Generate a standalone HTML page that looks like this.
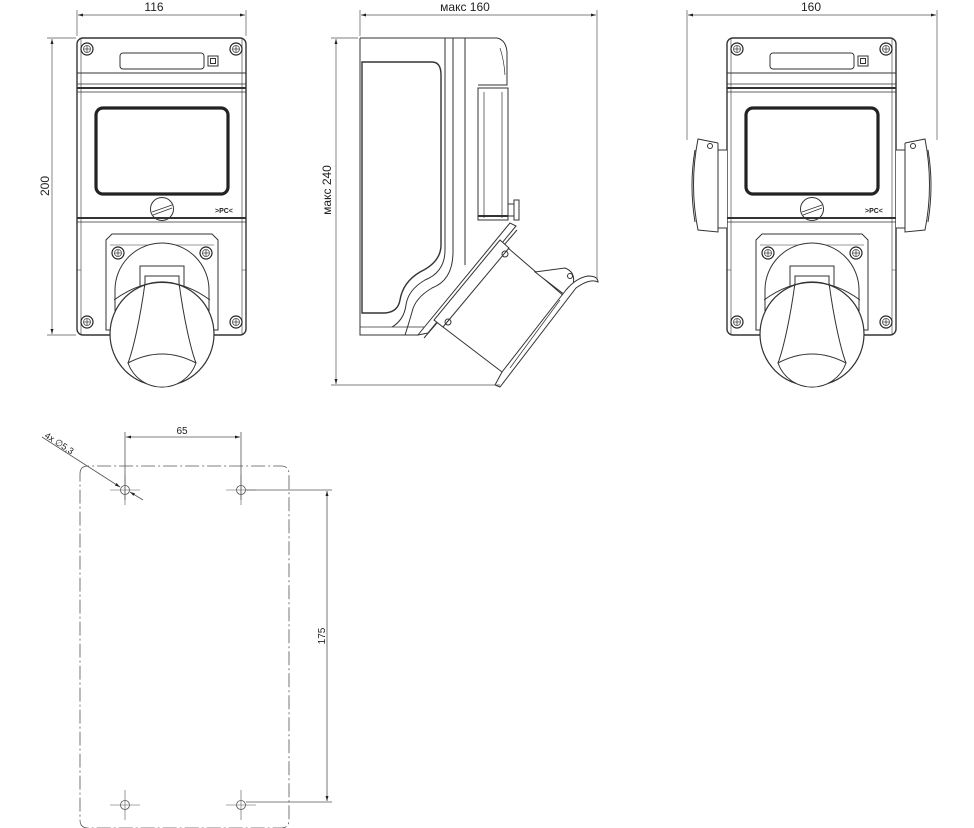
<!DOCTYPE html>
<html><head><meta charset="utf-8"><style>
html,body{margin:0;padding:0;background:#fff;}
svg{display:block;}
text{font-family:"Liberation Sans",sans-serif;fill:#222;}
</style></head><body>
<svg width="974" height="828" viewBox="0 0 974 828" xmlns="http://www.w3.org/2000/svg">
<defs>
<marker id="ar" viewBox="0 0 10 10" refX="10" refY="5" markerWidth="9" markerHeight="5" orient="auto-start-reverse" markerUnits="userSpaceOnUse"><path d="M0,2 L10,5 L0,8 Z" fill="#222"/></marker>
<g id="scr"><circle r="6" fill="#fff" stroke="#222" stroke-width="1.2"/><circle r="3.5" fill="none" stroke="#444" stroke-width="0.8"/><path d="M-3,0H3M0,-3V3" stroke="#444" stroke-width="0.8"/></g>
<g id="front" fill="none" stroke="#333" stroke-width="1">
 <rect x="77" y="38" width="169" height="297" rx="6" stroke-width="1.4"/>
 <line x1="81" y1="38" x2="81" y2="335" stroke-width="0.6"/>
 <line x1="242" y1="38" x2="242" y2="335" stroke-width="0.6"/>
 <line x1="77" y1="73" x2="246" y2="73"/>
 <line x1="77" y1="84" x2="246" y2="84" stroke-width="0.8"/>
 <line x1="77" y1="88" x2="246" y2="88" stroke-width="2"/>
 <line x1="77" y1="92" x2="246" y2="92" stroke-width="0.8"/>
 <rect x="120" y="53" width="84" height="16" rx="3"/>
 <rect x="208" y="56" width="10" height="10"/><rect x="210.5" y="58.5" width="5" height="5"/>
 <rect x="96" y="108" width="132" height="86" rx="7" stroke-width="3.2" stroke="#222"/>
 <circle cx="162" cy="209" r="11.5"/><path d="M152,212 L172,205 M153,215 L172,208" stroke-width="0.8"/>
 <line x1="77" y1="218" x2="246" y2="218" stroke-width="2"/>
 <line x1="77" y1="222" x2="246" y2="222" stroke-width="0.8"/>
 <path d="M81,270 L77,270 M242,270 L246,270" stroke-width="0.6"/>
 <path d="M106,330 V240 L112,234 H212 L218,240 V330 Z" fill="#fff"/>
 <line x1="110" y1="245" x2="214" y2="245" stroke-width="0.6"/>
 <path d="M115,330 V290 A47,47 0 0 1 209,290 V330" fill="#fff"/>
 <rect x="140" y="266" width="44" height="22"/>
 <rect x="145" y="276" width="34" height="14"/>
 <circle cx="162" cy="334" r="52" fill="#fff" stroke-width="1.2"/>
 <path d="M145,283 C140,320 133,350 128,363 M179,283 C184,320 191,350 196,363" />
 <path d="M128,363 Q162,345 196,363 A36,36 0 0 1 128,363 Z" fill="#fff"/>
 <path d="M114,300 Q162,265 210,300"/>
</g>
</defs>

<!-- front view 1 -->
<use href="#front"/>
<use href="#scr" x="87" y="49"/><use href="#scr" x="236" y="49"/>
<use href="#scr" x="87" y="322"/><use href="#scr" x="236" y="322"/>
<use href="#scr" x="118" y="253"/><use href="#scr" x="206" y="253"/>
<text x="215" y="213" font-size="7" font-weight="bold">&gt;PC&lt;</text>
<g stroke="#555" stroke-width="0.7" fill="none">
 <line x1="77" y1="10" x2="77" y2="36"/><line x1="246" y1="10" x2="246" y2="36"/>
 <line x1="78" y1="15" x2="245" y2="15" marker-start="url(#ar)" marker-end="url(#ar)"/>
 <line x1="47" y1="38" x2="76" y2="38"/><line x1="47" y1="335" x2="76" y2="335"/>
 <line x1="52" y1="39" x2="52" y2="334" marker-start="url(#ar)" marker-end="url(#ar)"/>
</g>
<text x="154" y="11" font-size="12" text-anchor="middle">116</text>
<text transform="translate(49,186) rotate(-90)" font-size="12" text-anchor="middle">200</text>

<!-- front view 3 -->
<use href="#front" x="650"/>
<use href="#scr" x="737" y="49"/><use href="#scr" x="886" y="49"/>
<use href="#scr" x="737" y="322"/><use href="#scr" x="886" y="322"/>
<use href="#scr" x="768" y="253"/><use href="#scr" x="856" y="253"/>
<text x="865" y="213" font-size="7" font-weight="bold">&gt;PC&lt;</text>
<g fill="#fff" stroke="#333" stroke-width="1">
 <path d="M727,150 H718 V228 H727"/>
 <path d="M718,143 L698,139 Q689,185 698,230 L718,232 V143"/>
 <path d="M695,150 Q689,185 695,222" fill="none"/>
 <circle cx="710" cy="146" r="2.5"/>
 <path d="M896,150 H905 V228 H896"/>
 <path d="M905,143 L925,139 Q934,185 925,230 L905,232 V143"/>
 <path d="M928,150 Q934,185 928,222" fill="none"/>
 <circle cx="913" cy="146" r="2.5"/>
</g>
<g stroke="#555" stroke-width="0.7" fill="none">
 <line x1="687" y1="10" x2="687" y2="140"/><line x1="937" y1="10" x2="937" y2="140"/>
 <line x1="688" y1="15" x2="936" y2="15" marker-start="url(#ar)" marker-end="url(#ar)"/>
</g>
<text x="811" y="11" font-size="12" text-anchor="middle">160</text>

<!-- side view -->
<g fill="none" stroke="#333" stroke-width="1">
 <path d="M360,38 H497 Q506,40 507,52 V85 H478"/>
 <path d="M500,48 Q504,60 505,75" stroke-width="0.7"/>
 <path d="M360,38 V335 H418"/>
 <line x1="360" y1="327" x2="424" y2="327" stroke-width="0.7"/>
 <path d="M362,62 H432 Q441,62 441,75 V245 Q441,262 420,272 Q403,282 400,300 Q398,312 385,313 H362 Z" stroke-width="1.4"/>
 <path d="M445,38 V250 Q445,272 425,280 Q408,290 406,305 Q404,320 392,327"/>
 <path d="M453,38 V252 Q453,280 432,288 Q415,298 412,312 Q408,326 405,335"/>
 <line x1="465" y1="38" x2="465" y2="265"/>
 <rect x="478" y="88" width="30" height="132"/>
 <line x1="484" y1="92" x2="484" y2="218" stroke-width="0.7"/>
 <line x1="502" y1="92" x2="502" y2="218" stroke-width="0.7"/>
 <line x1="478" y1="216" x2="508" y2="216" stroke-width="2"/>
 <rect x="508" y="204" width="6" height="12"/><rect x="514" y="200" width="5" height="20"/>
 <path d="M418,335 L422,330 L510,223 L516,226 L428,333 Z" fill="#fff"/>
 <path d="M424,338 L517,230" />
 <path d="M500,240 L509,248 L443,327 L434,320 Z" fill="#fff"/>
 <path d="M508,248 L565,297"/>
 <path d="M443,327 L502,372"/>
 <circle cx="505" cy="254" r="3"/><circle cx="448" cy="322" r="3"/>
 <path d="M535,272 L565,268 Q576,272 573,285 L565,295 Z" fill="#fff"/>
 <circle cx="570" cy="276" r="2.5"/>
 <path d="M566,290 L502,372 L495,385 L500,387 L576,288 Q590,278 598,282 Q598,276 588,276 Q576,278 566,290 Z" fill="#fff"/>
 <path d="M560,300 L510,368" stroke-width="0.7"/>
</g>
<g stroke="#555" stroke-width="0.7" fill="none">
 <line x1="360" y1="10" x2="360" y2="36"/><line x1="597" y1="10" x2="597" y2="280"/>
 <line x1="361" y1="15" x2="596" y2="15" marker-start="url(#ar)" marker-end="url(#ar)"/>
 <line x1="331" y1="38" x2="358" y2="38"/><line x1="331" y1="385" x2="500" y2="385"/>
 <line x1="336" y1="39" x2="336" y2="384" marker-start="url(#ar)" marker-end="url(#ar)"/>
</g>
<text x="465" y="11" font-size="12" text-anchor="middle">макс 160</text>
<text transform="translate(331,190) rotate(-90)" font-size="12" text-anchor="middle">макс 240</text>

<!-- mounting drawing -->
<g fill="none" stroke="#555" stroke-width="0.8">
 <path d="M80,474 Q80,466 88,466 H281 Q289,466 289,474 V820 Q289,828 281,828 H88 Q80,828 80,820 Z" stroke-dasharray="14,3,2,3"/>
 <circle cx="125" cy="490" r="4.5"/><circle cx="241" cy="490" r="4.5"/>
 <circle cx="125" cy="805" r="4.5"/><circle cx="241" cy="805" r="4.5"/>
 <path d="M110,490H140 M125,475V505 M226,490H256 M241,475V505 M110,805H140 M125,790V820 M226,805H256 M241,790V820" stroke-width="0.6"/>
 <line x1="125" y1="432" x2="125" y2="500"/><line x1="241" y1="432" x2="241" y2="500"/>
 <line x1="126" y1="437" x2="240" y2="437" marker-start="url(#ar)" marker-end="url(#ar)"/>
 <line x1="246" y1="490" x2="332" y2="490"/><line x1="246" y1="802" x2="332" y2="802"/>
 <line x1="327" y1="491" x2="327" y2="801" marker-start="url(#ar)" marker-end="url(#ar)"/>
 <line x1="42" y1="437" x2="120" y2="487" marker-end="url(#ar)"/>
 <line x1="143" y1="500" x2="130" y2="492" marker-end="url(#ar)"/>
</g>
<text x="182" y="434" font-size="10" text-anchor="middle">65</text>
<text transform="translate(325,636) rotate(-90)" font-size="10" text-anchor="middle">175</text>
<text transform="translate(44,437) rotate(33)" font-size="9">4x ∅5,3</text>
</svg>
</body></html>
